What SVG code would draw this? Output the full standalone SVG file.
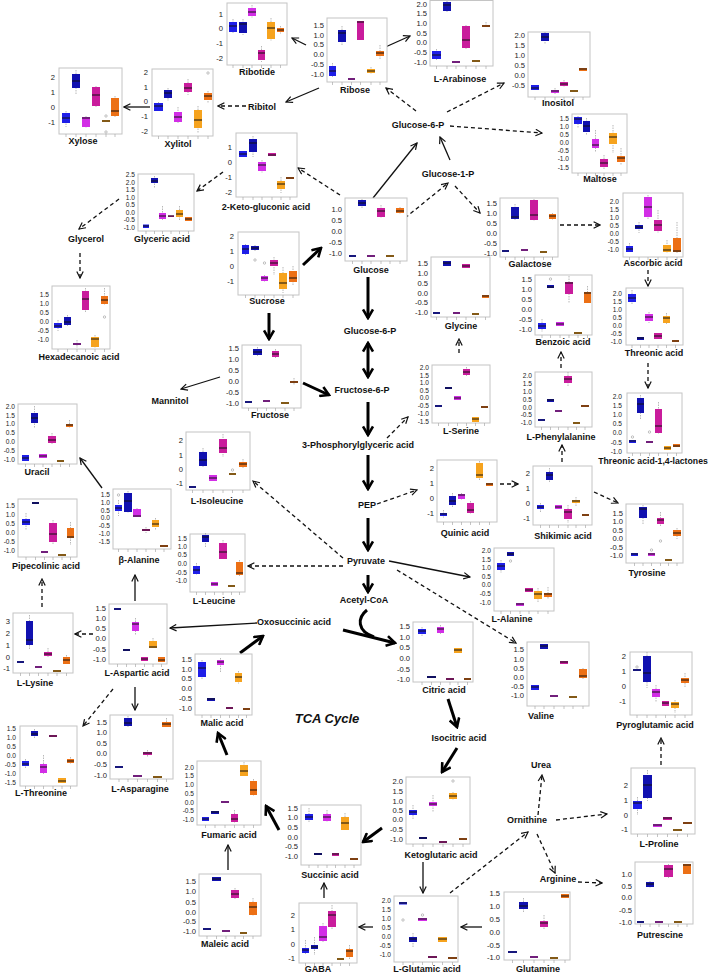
<svg xmlns="http://www.w3.org/2000/svg" width="709" height="973" viewBox="0 0 709 973">
<style>
.fr{fill:#fff;stroke:#c4c4c4;stroke-width:1}
.tk{font-family:"Liberation Sans",Arial,sans-serif;font-size:7.6px;fill:#1a1a1a;text-anchor:end}
#glyceric-acid .tk,#l-serine .tk,#maltose .tk,#ascorbic-acid .tk,#threonic-acid .tk,#l-phenylalanine .tk,#beta-alanine .tk,#fumaric-acid .tk,#l-alanine .tk,#l-leucine .tk,#uracil .tk,#hexadecanoic-acid .tk,#l-glutamic-acid .tk,#pipecolinic-acid .tk,#l-threonine .tk,#threonic-lactones .tk{font-size:6.6px}
.lb{font-family:"Liberation Sans",Arial,sans-serif;font-size:9px;font-weight:bold;fill:#111;text-anchor:middle}
.xt{stroke:#aaa;stroke-width:.7;fill:none}
.wk{stroke:#9a9a9a;stroke-width:.7;stroke-dasharray:1.5 1;fill:none}
.md{stroke:#111;stroke-width:1;fill:none}
.c1{fill:#1e1ee8}.c2{fill:#1111b0}.c3{fill:#d22ee6}.c4{fill:#c91c9c}.c5{fill:#f6a31e}.c6{fill:#ec7015}
.dt{fill:none;stroke:#999;stroke-width:.6}
.s{stroke:#111;stroke-width:1.3;fill:none;marker-end:url(#a)}
.d{stroke:#111;stroke-width:1.3;fill:none;stroke-dasharray:4 3;marker-end:url(#a)}
.k{stroke:#000;stroke-width:3;fill:none;marker-end:url(#h)}
.ti{font-family:"Liberation Sans",Arial,sans-serif;font-size:13px;font-weight:bold;font-style:italic;fill:#111;text-anchor:middle}
</style>
<defs>
<marker id="a" viewBox="0 0 10 10" refX="9" refY="5" markerWidth="8" markerHeight="8" markerUnits="userSpaceOnUse" orient="auto-start-reverse"><path d="M1,1 L9,5 L1,9" fill="none" stroke="#111" stroke-width="1.5"/></marker>
<marker id="h" viewBox="0 0 12 12" refX="10" refY="6" markerWidth="12" markerHeight="12" markerUnits="userSpaceOnUse" orient="auto-start-reverse"><path d="M1.5,1 L10,6 L1.5,11" fill="none" stroke="#000" stroke-width="2.6"/></marker>
</defs>
<rect width="709" height="973" fill="#fff"/>

<g id="connectors">
<path class="s" d="M150,107 L124,107"/>
<path class="s" d="M306,45 L292,38"/>
<path class="s" d="M319,88 L286,102"/>
<path class="s" d="M381,49 L410,36"/>
<path class="s" d="M450,160 L440,137"/>
<path class="s" d="M373,198 L417,143"/>
<path class="s" d="M220,377 L181,389"/>
<path class="s" d="M102,488 L80,458"/>
<path class="s" d="M257,623 L170,628"/>
<path class="s" d="M135,601 L135,575"/>
<path class="s" d="M135,687 L135,710"/>
<path class="s" d="M389,561 L470,577"/>
<path class="s" d="M423,862 L423,893"/>
<path class="s" d="M373,927 L359,927"/>
<path class="s" d="M324,898 L324,883"/>
<path class="s" d="M482,927 L461,927"/>
<path class="s" d="M228,870 L228,845"/>
<path class="d" d="M246,106 L218,106"/>
<path class="d" d="M416,111 L386,88"/>
<path class="d" d="M447,112 L504,83"/>
<path class="d" d="M450,126 L542,133"/>
<path class="d" d="M405,218 L448,183"/>
<path class="d" d="M340,195 L298,168"/>
<path class="d" d="M455,186 L480,213"/>
<path class="d" d="M223,172 L197,191"/>
<path class="d" d="M119,199 L79,229"/>
<path class="d" d="M80,253 L80,278"/>
<path class="d" d="M560,225 L600,225"/>
<path class="d" d="M648,270 L648,286"/>
<path class="d" d="M648,363 L648,388"/>
<path class="d" d="M459,353 L459,339"/>
<path class="d" d="M387,438 L408,417"/>
<path class="d" d="M561,368 L561,352"/>
<path class="d" d="M562,462 L562,445"/>
<path class="d" d="M377,504 L417,490"/>
<path class="d" d="M500,484 L518,484"/>
<path class="d" d="M594,492 L618,503"/>
<path class="d" d="M343,558 L253,481"/>
<path class="d" d="M343,566 L248,566"/>
<path class="d" d="M397,570 L516,643"/>
<path class="d" d="M42,607 L42,579"/>
<path class="d" d="M93,634 L75,634"/>
<path class="d" d="M113,689 L83,726"/>
<path class="d" d="M450,893 L528,832"/>
<path class="d" d="M538,815 L542,775"/>
<path class="d" d="M556,820 L607,814"/>
<path class="d" d="M537,834 L555,873"/>
<path class="d" d="M578,882 L602,883"/>
<path class="d" d="M661,765 L661,738"/>
<path class="k" d="M303,265 L321,248"/>
<path class="k" d="M269,313 L269,339"/>
<path class="k" d="M303,383 L329,395"/>
<path class="k" d="M368,277 L368,318"/>
<path class="k" d="M368,343 L368,377" style="marker-start:url(#h)"/>
<path class="k" d="M368,402 L368,435"/>
<path class="k" d="M368,455 L368,489"/>
<path class="k" d="M368,518 L368,550"/>
<path class="k" d="M368,575 L368,592"/>
<path class="k" d="M343,630 L395,643"/>
<path class="k" d="M367,610 C357,618 357,631 374,637" style="marker-end:none"/>
<path class="k" d="M448,699 L457,727"/>
<path class="k" d="M457,748 L442,772"/>
<path class="k" d="M382,828 L363,842"/>
<path class="k" d="M279,830 L266,806"/>
<path class="k" d="M227,755 L218,733"/>
<path class="k" d="M240,653 L263,636"/>
</g>

<g id="ribitol"><text class="lb" x="262" y="110">Ribitol</text></g>
<g id="glucose-6-p-top"><text class="lb" x="418" y="128">Glucose-6-P</text></g>
<g id="glucose-1-p"><text class="lb" x="448" y="177">Glucose-1-P</text></g>
<g id="glycerol"><text class="lb" x="86" y="242">Glycerol</text></g>
<g id="mannitol"><text class="lb" x="170" y="404">Mannitol</text></g>
<g id="glucose-6-p"><text class="lb" x="370" y="334">Glucose-6-P</text></g>
<g id="fructose-6-p"><text class="lb" x="362" y="393">Fructose-6-P</text></g>
<g id="pga"><text class="lb" x="358" y="448">3-Phosphorylglyceric acid</text></g>
<g id="pep"><text class="lb" x="367" y="508">PEP</text></g>
<g id="pyruvate"><text class="lb" x="366" y="564">Pyruvate</text></g>
<g id="acetyl-coa"><text class="lb" x="364" y="603">Acetyl-CoA</text></g>
<g id="oxosuccinic"><text class="lb" x="294" y="625">Oxosuccinic acid</text></g>
<g id="tca"><text class="ti" x="327" y="723">TCA Cycle</text></g>
<g id="isocitric"><text class="lb" x="459" y="741">Isocitric acid</text></g>
<g id="urea"><text class="lb" x="541" y="768">Urea</text></g>
<g id="ornithine"><text class="lb" x="527" y="823">Ornithine</text></g>
<g id="arginine"><text class="lb" x="558" y="882">Arginine</text></g>

<g id="ribotide"><rect class="fr" x="227" y="3" width="60" height="62"/>
<text class="tk" x="223" y="17">1</text><text class="tk" x="223" y="31">0</text><text class="tk" x="223" y="46">-1</text><text class="tk" x="223" y="61">-2</text>
<path class="xt" d="M233,65v3M243,65v3M252,65v3M261.5,65v3M271,65v3M280.5,65v3"/>
<path class="wk" d="M233,19V34M243,19V35M252,5V18M261.5,46V62M271,18V41M280.5,26V34"/>
<rect class="c1" x="229" y="22" width="8" height="10"/><rect class="c2" x="239" y="22" width="8" height="11"/><rect class="c3" x="248" y="8" width="8" height="8"/><rect class="c4" x="258" y="50" width="7" height="10"/><rect class="c5" x="267" y="22" width="8" height="17"/><rect class="c6" x="277" y="28" width="7" height="4"/>
<path class="md" d="M229,26h8M239,24h8M248,12h8M258,53h7M267,28h8M277,30h7"/>
<text class="lb" x="257" y="75">Ribotide</text></g>

<g id="ribose"><rect class="fr" x="327" y="18" width="60" height="64"/>
<text class="tk" x="324" y="28">1.5</text><text class="tk" x="324" y="38">1.0</text><text class="tk" x="324" y="47">0.5</text><text class="tk" x="324" y="57">0.0</text><text class="tk" x="324" y="67">-0.5</text><text class="tk" x="324" y="77">-1.0</text>
<path class="xt" d="M332.5,82v3M342,82v3M351.5,82v3M360.5,82v3M371,82v3M380,82v3"/>
<path class="wk" d="M332.5,63V77M342,26V45M360.5,21V40M371,67V74M380,45V59"/>
<rect class="c1" x="329" y="66" width="7" height="10"/><rect class="c2" x="338" y="30" width="8" height="12"/><rect class="c3" x="348" y="78" width="7" height="2"/><rect class="c4" x="357" y="21" width="7" height="19"/><rect class="c5" x="367" y="69" width="8" height="4"/><rect class="c6" x="376" y="51" width="8" height="5"/>
<path class="md" d="M329,71h7M338,33h8M348,79h7M357,22h7M367,71h8M376,53h8"/>
<text class="lb" x="355" y="93">Ribose</text></g>

<g id="l-arabinose"><rect class="fr" x="430" y="0.5" width="63" height="65.5"/>
<text class="tk" x="427" y="7">2.0</text><text class="tk" x="427" y="16">1.5</text><text class="tk" x="427" y="26">1.0</text><text class="tk" x="427" y="36">0.5</text><text class="tk" x="427" y="45">0.0</text><text class="tk" x="427" y="55">-0.5</text><text class="tk" x="427" y="65">-1.0</text>
<path class="xt" d="M436.5,66v3M447,66v3M456,66v3M466,66v3M476,66v3M486,66v3"/>
<path class="wk" d="M436.5,49V60M447,1V12M466,25V49M486,22V27"/>
<rect class="c1" x="432" y="51" width="9" height="8"/><rect class="c2" x="443" y="2" width="8" height="9"/><rect class="c3" x="452" y="61" width="8" height="2"/><rect class="c4" x="462" y="26" width="8" height="22"/><rect class="c5" x="472" y="60" width="8" height="2"/><rect class="c6" x="482" y="25" width="8" height="2"/>
<path class="md" d="M432,55h9M443,5h8M452,62h8M462,40h8M472,61h8M482,26h8"/>
<text class="lb" x="460" y="82">L-Arabinose</text></g>

<g id="inositol"><rect class="fr" x="528" y="32" width="62" height="65"/>
<text class="tk" x="525" y="38">2.0</text><text class="tk" x="525" y="48">1.5</text><text class="tk" x="525" y="58">1.0</text><text class="tk" x="525" y="68">0.5</text><text class="tk" x="525" y="78">0.0</text><text class="tk" x="525" y="88">-0.5</text>
<path class="xt" d="M535,97v3M545,97v3M555,97v3M564,97v3M574,97v3M583,97v3"/>
<path class="wk" d="M545,32V44M555,88V94M564,80V87"/>
<rect class="c1" x="531" y="85" width="8" height="5"/><rect class="c2" x="541" y="33" width="8" height="8"/><rect class="c3" x="551" y="90" width="8" height="3"/><rect class="c4" x="560" y="82" width="8" height="4"/><rect class="c5" x="570" y="90" width="8" height="2"/><rect class="c6" x="579" y="68" width="8" height="3"/>
<path class="md" d="M531,88h8M541,37h8M551,91h8M560,84h8M570,91h8M579,69h8"/>
<text class="lb" x="558" y="106">Inositol</text></g>

<g id="maltose"><rect class="fr" x="572" y="114" width="55" height="59"/>
<text class="tk" x="569" y="121">1.5</text><text class="tk" x="569" y="129">1.0</text><text class="tk" x="569" y="137">0.5</text><text class="tk" x="569" y="145">0.0</text><text class="tk" x="569" y="153">-0.5</text><text class="tk" x="569" y="161">-1.0</text><text class="tk" x="569" y="170">-1.5</text>
<path class="xt" d="M578,173v3M586.5,173v3M595.5,173v3M604,173v3M613,173v3M621,173v3"/>
<path class="wk" d="M578,116V128M586.5,118V135M595.5,130V152M604,155V170M613,125V153M621,148V165"/>
<rect class="c1" x="574" y="117" width="8" height="7"/><rect class="c2" x="583" y="121" width="7" height="11"/><rect class="c3" x="592" y="139" width="7" height="9"/><rect class="c4" x="600" y="159" width="8" height="8"/><rect class="c5" x="609" y="133" width="8" height="11"/><rect class="c6" x="617" y="156" width="8" height="6"/>
<path class="md" d="M574,119h8M583,126h7M592,145h7M600,163h8M609,137h8M617,158h8"/>
<text class="lb" x="600" y="182">Maltose</text></g>

<g id="xylose"><rect class="fr" x="59" y="68" width="63" height="66"/>
<text class="tk" x="55" y="80">2</text><text class="tk" x="55" y="95">1</text><text class="tk" x="55" y="110">0</text><text class="tk" x="55" y="125">-1</text>
<path class="xt" d="M66,134v3M76,134v3M86,134v3M96,134v3M106,134v3M115,134v3"/>
<path class="wk" d="M66,111V127M76,70V94M86,116V128M96,86V107M115,96V117"/>
<rect class="c1" x="62" y="113" width="8" height="10"/><rect class="c2" x="72" y="74" width="8" height="14"/><rect class="c3" x="82" y="117" width="8" height="10"/><rect class="c4" x="92" y="87" width="8" height="19"/><rect class="c5" x="102" y="120" width="8" height="2"/><rect class="c6" x="111" y="98" width="8" height="18"/>
<path class="md" d="M62,118h8M72,81h8M82,118h8M92,95h8M102,121h8M111,111h8"/>
<circle class="dt" cx="106" cy="116" r="1.2"/><circle class="dt" cx="106" cy="132" r="1.2"/>
<text class="lb" x="83" y="144">Xylose</text></g>

<g id="xylitol"><rect class="fr" x="152" y="69" width="61" height="67"/>
<text class="tk" x="148" y="75">2</text><text class="tk" x="148" y="90">1</text><text class="tk" x="148" y="104">0</text><text class="tk" x="148" y="119">-1</text><text class="tk" x="148" y="134">-2</text>
<path class="xt" d="M158.5,136v3M168,136v3M178,136v3M188,136v3M198,136v3M208,136v3"/>
<path class="wk" d="M158.5,102V112M168,88V101M178,107V123M188,79V95M198,106V133M208,91V103"/>
<rect class="c1" x="154" y="103" width="9" height="8"/><rect class="c2" x="164" y="90" width="8" height="8"/><rect class="c3" x="174" y="112" width="8" height="10"/><rect class="c4" x="184" y="83" width="8" height="9"/><rect class="c5" x="194" y="110" width="8" height="18"/><rect class="c6" x="204" y="93" width="8" height="7"/>
<path class="md" d="M154,106h9M164,93h8M174,117h8M184,88h8M194,120h8M204,96h8"/>
<circle class="dt" cx="208" cy="73" r="1.2"/>
<text class="lb" x="178" y="147">Xylitol</text></g>

<g id="keto-gluconic"><rect class="fr" x="236" y="133" width="61" height="64"/>
<text class="tk" x="232" y="150">1</text><text class="tk" x="232" y="165">0</text><text class="tk" x="232" y="180">-1</text><text class="tk" x="232" y="195">-2</text>
<path class="xt" d="M243,197v3M253,197v3M262,197v3M272,197v3M281,197v3M290,197v3"/>
<path class="wk" d="M253,136V157M262,160V173M281,177V193"/>
<rect class="c1" x="239" y="151" width="8" height="6"/><rect class="c2" x="249" y="139" width="8" height="13"/><rect class="c3" x="258" y="162" width="8" height="9"/><rect class="c4" x="268" y="153" width="8" height="3"/><rect class="c5" x="277" y="181" width="8" height="8"/><rect class="c6" x="286" y="177" width="8" height="2"/>
<path class="md" d="M239,154h8M249,143h8M258,165h8M268,155h8M277,184h8M286,178h8"/>
<text class="lb" x="266" y="210">2-Keto-gluconic acid</text></g>

<g id="glyceric-acid"><rect class="fr" x="138" y="174" width="56" height="57"/>
<text class="tk" x="135" y="177">2.5</text><text class="tk" x="135" y="184.5">2.0</text><text class="tk" x="135" y="192">1.5</text><text class="tk" x="135" y="199.5">1.0</text><text class="tk" x="135" y="207">0.5</text><text class="tk" x="135" y="214.5">0.0</text><text class="tk" x="135" y="222">-0.5</text><text class="tk" x="135" y="229.5">-1.0</text>
<path class="xt" d="M146,231v3M154.5,231v3M162.5,231v3M171,231v3M179.5,231v3M188.5,231v3"/>
<path class="wk" d="M154.5,176V188M162.5,206V220M179.5,206V220"/>
<rect class="c1" x="143" y="224.5" width="6" height="3.5"/><rect class="c2" x="151" y="178" width="7" height="5"/><rect class="c3" x="159" y="213" width="7" height="6"/><rect class="c4" x="168" y="215.5" width="6" height="1.5"/><rect class="c5" x="176" y="210" width="7" height="7"/><rect class="c6" x="185" y="217" width="7" height="4"/>
<path class="md" d="M143,226h6M151,181h7M159,216h7M168,216h6M176,214h7M185,219h7"/>
<text class="lb" x="162" y="242">Glyceric acid</text></g>

<g id="hexadecanoic-acid"><rect class="fr" x="52" y="286" width="58" height="63"/>
<text class="tk" x="49" y="297">1.5</text><text class="tk" x="49" y="306">1.0</text><text class="tk" x="49" y="315">0.5</text><text class="tk" x="49" y="324">0.0</text><text class="tk" x="49" y="333">-0.5</text><text class="tk" x="49" y="342">-1.0</text>
<path class="xt" d="M58,349v3M67.5,349v3M77,349v3M85.5,349v3M95,349v3M104.5,349v3"/>
<path class="wk" d="M58,320V331M67.5,315V326M77,340V348M85.5,288V312M95,335V348M104.5,288V305"/>
<rect class="c1" x="54" y="323" width="8" height="5"/><rect class="c2" x="64" y="317" width="7" height="8"/><rect class="c3" x="73" y="343" width="8" height="2"/><rect class="c4" x="82" y="291" width="7" height="19"/><rect class="c5" x="91" y="337" width="8" height="10"/><rect class="c6" x="101" y="296" width="7" height="8"/>
<path class="md" d="M54,326h8M64,322h7M73,344h8M82,299h7M91,339h8M101,300h7"/>
<circle class="dt" cx="104.5" cy="317" r="1.2"/>
<text class="lb" x="79" y="360">Hexadecanoic acid</text></g>

<g id="glucose"><rect class="fr" x="345" y="198" width="62" height="63"/>
<text class="tk" x="342" y="212">1.0</text><text class="tk" x="342" y="223">0.5</text><text class="tk" x="342" y="234">0.0</text><text class="tk" x="342" y="245">-0.5</text><text class="tk" x="342" y="256">-1.0</text>
<path class="xt" d="M352.5,261v3M362,261v3M371,261v3M381,261v3M390,261v3M400,261v3"/>
<path class="wk" d="M362,199V208M381,205V218M400,207V214"/>
<rect class="c1" x="349" y="255" width="7" height="2"/><rect class="c2" x="358" y="200" width="8" height="6"/><rect class="c3" x="367" y="255" width="8" height="2"/><rect class="c4" x="377" y="208" width="8" height="9"/><rect class="c5" x="386" y="255" width="8" height="2"/><rect class="c6" x="396" y="208" width="8" height="5"/>
<path class="md" d="M349,256h7M358,203h8M367,256h8M377,211h8M386,256h8M396,211h8"/>
<text class="lb" x="371" y="273">Glucose</text></g>

<g id="sucrose"><rect class="fr" x="238" y="232" width="61" height="63"/>
<text class="tk" x="234" y="239">2</text><text class="tk" x="234" y="254">1</text><text class="tk" x="234" y="269">0</text><text class="tk" x="234" y="284">-1</text>
<path class="xt" d="M245.5,295v3M255,295v3M264.5,295v3M274,295v3M283,295v3M293,295v3"/>
<path class="wk" d="M245.5,244V255M255,245V251M264.5,275V282M274,257V275M283,267V293M293,266V285"/>
<rect class="c1" x="242" y="245" width="7" height="9"/><rect class="c2" x="251" y="246" width="8" height="4"/><rect class="c3" x="261" y="276" width="7" height="5"/><rect class="c4" x="270" y="260" width="8" height="6"/><rect class="c5" x="279" y="273" width="8" height="16"/><rect class="c6" x="289" y="271" width="8" height="11"/>
<path class="md" d="M242,249h7M251,248h8M261,278h7M270,263h8M279,283h8M289,278h8"/>
<circle class="dt" cx="255" cy="260" r="1.2"/><circle class="dt" cx="264.5" cy="263" r="1.2"/>
<text class="lb" x="267" y="304">Sucrose</text></g>

<g id="fructose"><rect class="fr" x="242" y="345" width="59" height="63"/>
<text class="tk" x="239" y="351">1.5</text><text class="tk" x="239" y="362">1.0</text><text class="tk" x="239" y="373">0.5</text><text class="tk" x="239" y="384">0.0</text><text class="tk" x="239" y="395">-0.5</text><text class="tk" x="239" y="406">-1.0</text>
<path class="xt" d="M248.5,408v3M257.5,408v3M266.5,408v3M275.5,408v3M285,408v3M294,408v3"/>
<path class="wk" d="M257.5,347V357M275.5,349V358M294,378V385"/>
<rect class="c1" x="245" y="401" width="7" height="2"/><rect class="c2" x="253" y="349" width="9" height="6"/><rect class="c3" x="263" y="400" width="7" height="2"/><rect class="c4" x="272" y="351" width="7" height="6"/><rect class="c5" x="281" y="402" width="8" height="2"/><rect class="c6" x="290" y="381" width="8" height="2"/>
<path class="md" d="M245,402h7M253,352h9M263,401h7M272,354h7M281,403h8M290,382h8"/>
<text class="lb" x="270" y="418">Fructose</text></g>

<g id="galactose"><rect class="fr" x="500" y="198" width="58" height="59"/>
<text class="tk" x="497" y="206">1.5</text><text class="tk" x="497" y="216">1.0</text><text class="tk" x="497" y="226">0.5</text><text class="tk" x="497" y="236">0.0</text><text class="tk" x="497" y="246">-0.5</text><text class="tk" x="497" y="256">-1.0</text>
<path class="xt" d="M505.5,257v3M515,257v3M524.5,257v3M534,257v3M543.5,257v3M552.5,257v3"/>
<path class="wk" d="M515,204V220M534,199V221M552.5,213V220"/>
<rect class="c1" x="502" y="250" width="7" height="2"/><rect class="c2" x="511" y="207" width="8" height="12"/><rect class="c3" x="521" y="249" width="7" height="2"/><rect class="c4" x="530" y="200" width="8" height="20"/><rect class="c5" x="540" y="251" width="7" height="2"/><rect class="c6" x="549" y="214" width="7" height="5"/>
<path class="md" d="M502,251h7M511,217h8M521,250h7M530,215h8M540,252h7M549,216h7"/>
<text class="lb" x="530" y="267">Galactose</text></g>

<g id="ascorbic-acid"><rect class="fr" x="623" y="193" width="60" height="64"/>
<text class="tk" x="619" y="204">2.0</text><text class="tk" x="619" y="212">1.5</text><text class="tk" x="619" y="220">1.0</text><text class="tk" x="619" y="228">0.5</text><text class="tk" x="619" y="236">0.0</text><text class="tk" x="619" y="244">-0.5</text><text class="tk" x="619" y="252">-1.0</text>
<path class="xt" d="M629.5,257v3M639,257v3M648,257v3M658,257v3M667,257v3M677,257v3"/>
<path class="wk" d="M629.5,243V253M639,222V233M648,195V220M658,210V233M667,240V253M677,222V253"/>
<rect class="c1" x="626" y="246" width="7" height="6"/><rect class="c2" x="635" y="225" width="8" height="4"/><rect class="c3" x="644" y="197" width="8" height="20"/><rect class="c4" x="654" y="220" width="8" height="11"/><rect class="c5" x="663" y="245" width="8" height="7"/><rect class="c6" x="673" y="238" width="8" height="14"/>
<path class="md" d="M626,249h7M635,227h8M644,207h8M654,225h8M663,250h8M673,251h8"/>
<text class="lb" x="653" y="266">Ascorbic acid</text></g>

<g id="glycine"><rect class="fr" x="431" y="257" width="59" height="60"/>
<text class="tk" x="428" y="266">1.5</text><text class="tk" x="428" y="276">1.0</text><text class="tk" x="428" y="286">0.5</text><text class="tk" x="428" y="296">0.0</text><text class="tk" x="428" y="305">-0.5</text><text class="tk" x="428" y="315">-1.0</text>
<path class="xt" d="M436.5,317v3M447,317v3M456.5,317v3M466,317v3M475.5,317v3M485.5,317v3"/>
<rect class="c1" x="433" y="312" width="7" height="2"/><rect class="c2" x="443" y="261" width="8" height="5"/><rect class="c3" x="453" y="312" width="7" height="2"/><rect class="c4" x="462" y="264" width="8" height="4"/><rect class="c5" x="472" y="313" width="7" height="2"/><rect class="c6" x="482" y="295" width="7" height="3"/>
<path class="md" d="M433,313h7M443,263h8M453,313h7M462,266h8M472,314h7M482,296h7"/>
<text class="lb" x="461" y="329">Glycine</text></g>

<g id="l-serine"><rect class="fr" x="432" y="365" width="58" height="58"/>
<text class="tk" x="429" y="370">2.0</text><text class="tk" x="429" y="377.5">1.5</text><text class="tk" x="429" y="385">1.0</text><text class="tk" x="429" y="392.5">0.5</text><text class="tk" x="429" y="400">0.0</text><text class="tk" x="429" y="408">-0.5</text><text class="tk" x="429" y="416">-1.0</text><text class="tk" x="429" y="424">-1.5</text>
<path class="xt" d="M438.5,423v3M448.5,423v3M457.5,423v3M466.5,423v3M475.5,423v3M484.5,423v3"/>
<path class="wk" d="M466.5,367V377"/>
<rect class="c1" x="435" y="405" width="7" height="2"/><rect class="c2" x="445" y="387" width="7" height="2"/><rect class="c3" x="454" y="396" width="7" height="4"/><rect class="c4" x="463" y="369" width="7" height="6"/><rect class="c5" x="472" y="417" width="7" height="5"/><rect class="c6" x="481" y="406" width="7" height="2"/>
<path class="md" d="M435,406h7M445,388h7M454,398h7M463,372h7M472,419h7M481,407h7"/>
<text class="lb" x="461" y="434">L-Serine</text></g>

<g id="benzoic-acid"><rect class="fr" x="535" y="275" width="57" height="60"/>
<text class="tk" x="532" y="282">1.5</text><text class="tk" x="532" y="292">1.0</text><text class="tk" x="532" y="302">0.5</text><text class="tk" x="532" y="312">0.0</text><text class="tk" x="532" y="322">-0.5</text><text class="tk" x="532" y="332">-1.0</text>
<path class="xt" d="M542,335v3M550.5,335v3M560,335v3M569,335v3M578,335v3M587.5,335v3"/>
<path class="wk" d="M542,319V332M569,276V303M587.5,286V303"/>
<rect class="c1" x="538" y="323" width="8" height="6"/><rect class="c2" x="547" y="285" width="7" height="3"/><rect class="c3" x="556" y="322" width="8" height="4"/><rect class="c4" x="565" y="282" width="8" height="12"/><rect class="c5" x="574" y="332" width="8" height="2"/><rect class="c6" x="584" y="292" width="7" height="11"/>
<path class="md" d="M538,326h8M547,287h7M556,324h8M565,283h8M574,333h8M584,293h7"/>
<circle class="dt" cx="550.5" cy="279" r="1.2"/>
<text class="lb" x="563" y="345">Benzoic acid</text></g>

<g id="threonic-acid"><rect class="fr" x="626" y="288" width="57" height="57"/>
<text class="tk" x="622" y="296">2.0</text><text class="tk" x="622" y="304">1.5</text><text class="tk" x="622" y="312">1.0</text><text class="tk" x="622" y="320">0.5</text><text class="tk" x="622" y="328">0.0</text><text class="tk" x="622" y="336">-0.5</text><text class="tk" x="622" y="344">-1.0</text>
<path class="xt" d="M632,345v3M640.5,345v3M649,345v3M658,345v3M666.5,345v3M675.5,345v3"/>
<path class="wk" d="M632,290V305M649,312V323M666.5,313V324"/>
<rect class="c1" x="628" y="294" width="8" height="8"/><rect class="c2" x="637" y="337" width="7" height="3"/><rect class="c3" x="645" y="314" width="8" height="7"/><rect class="c4" x="654" y="333" width="8" height="6"/><rect class="c5" x="663" y="316" width="7" height="7"/><rect class="c6" x="672" y="340" width="7" height="2"/>
<path class="md" d="M628,298h8M637,338h7M645,317h8M654,336h8M663,318h7M672,341h7"/>
<text class="lb" x="654" y="356">Threonic acid</text></g>

<g id="threonic-lactones"><rect class="fr" x="627" y="393" width="55" height="60"/>
<text class="tk" x="622" y="399">2.0</text><text class="tk" x="622" y="408">1.5</text><text class="tk" x="622" y="417">1.0</text><text class="tk" x="622" y="426">0.5</text><text class="tk" x="622" y="435">0.0</text><text class="tk" x="622" y="445">-0.5</text><text class="tk" x="622" y="454">-1.0</text>
<path class="xt" d="M632.5,453v3M640.5,453v3M649.5,453v3M658.5,453v3M667.5,453v3M676.5,453v3"/>
<path class="wk" d="M640.5,395V420M658.5,402V434"/>
<rect class="c1" x="629" y="440" width="7" height="3"/><rect class="c2" x="637" y="398" width="7" height="15"/><rect class="c3" x="646" y="441" width="7" height="2"/><rect class="c4" x="655" y="409" width="7" height="24"/><rect class="c5" x="664" y="446" width="7" height="4"/><rect class="c6" x="673" y="444" width="7" height="3"/>
<path class="md" d="M629,441h7M637,404h7M646,442h7M655,426h7M664,448h7M673,446h7"/>
<circle class="dt" cx="632.5" cy="437" r="1.2"/><circle class="dt" cx="649.5" cy="432" r="1.2"/>
<text class="lb" x="653" y="464" style="font-size:8.7px">Threonic acid-1,4-lactones</text></g>

<g id="l-phenylalanine"><rect class="fr" x="535" y="372" width="57" height="55"/>
<text class="tk" x="532" y="378">2.0</text><text class="tk" x="532" y="386">1.5</text><text class="tk" x="532" y="394">1.0</text><text class="tk" x="532" y="402">0.5</text><text class="tk" x="532" y="410">0.0</text><text class="tk" x="532" y="417">-0.5</text><text class="tk" x="532" y="425">-1.0</text>
<path class="xt" d="M541.5,427v3M550.5,427v3M558.5,427v3M568,427v3M576.5,427v3M585,427v3"/>
<path class="wk" d="M568,372V386"/>
<rect class="c1" x="538" y="419" width="7" height="2"/><rect class="c2" x="547" y="399" width="7" height="3"/><rect class="c3" x="555" y="410" width="7" height="2"/><rect class="c4" x="564" y="376" width="8" height="7"/><rect class="c5" x="573" y="422" width="7" height="2"/><rect class="c6" x="581" y="405" width="8" height="2"/>
<path class="md" d="M538,420h7M547,400h7M555,411h7M564,379h8M573,423h7M581,406h8"/>
<text class="lb" x="561" y="440">L-Phenylalanine</text></g>

<g id="l-isoleucine"><rect class="fr" x="186" y="432" width="64" height="58"/>
<text class="tk" x="183" y="443">2</text><text class="tk" x="183" y="458">1</text><text class="tk" x="183" y="472">0</text><text class="tk" x="183" y="486">-1</text>
<path class="xt" d="M192.5,490v3M203,490v3M213,490v3M223,490v3M232.5,490v3M243,490v3"/>
<path class="wk" d="M203,448V468M223,434V457M243,459V469"/>
<rect class="c1" x="189" y="486" width="7" height="2"/><rect class="c2" x="199" y="452" width="8" height="14"/><rect class="c3" x="209" y="475" width="8" height="6"/><rect class="c4" x="219" y="439" width="8" height="14"/><rect class="c5" x="229" y="473" width="7" height="2"/><rect class="c6" x="239" y="462" width="8" height="5"/>
<path class="md" d="M189,487h7M199,460h8M209,478h8M219,448h8M229,474h7M239,464h8"/>
<circle class="dt" cx="232.5" cy="470" r="1.2"/>
<text class="lb" x="217" y="504">L-Isoleucine</text></g>

<g id="uracil"><rect class="fr" x="18" y="404" width="59" height="60"/>
<text class="tk" x="15" y="409">2.0</text><text class="tk" x="15" y="418">1.5</text><text class="tk" x="15" y="426">1.0</text><text class="tk" x="15" y="435">0.5</text><text class="tk" x="15" y="444">0.0</text><text class="tk" x="15" y="453">-0.5</text><text class="tk" x="15" y="462">-1.0</text>
<path class="xt" d="M25.5,464v3M34.5,464v3M43,464v3M52,464v3M60.5,464v3M69.5,464v3"/>
<path class="wk" d="M34.5,406V428M52,433V444M69.5,420V428"/>
<rect class="c1" x="22" y="455" width="7" height="6"/><rect class="c2" x="31" y="413" width="7" height="10"/><rect class="c3" x="39" y="454" width="8" height="4"/><rect class="c4" x="48" y="436" width="8" height="7"/><rect class="c5" x="57" y="460" width="7" height="2"/><rect class="c6" x="66" y="424" width="7" height="3"/>
<path class="md" d="M22,458h7M31,418h7M39,456h8M48,440h8M57,461h7M66,425h7"/>
<text class="lb" x="37" y="475">Uracil</text></g>

<g id="pipecolinic-acid"><rect class="fr" x="18" y="499" width="59" height="58"/>
<text class="tk" x="15" y="508">1.5</text><text class="tk" x="15" y="517">1.0</text><text class="tk" x="15" y="526">0.5</text><text class="tk" x="15" y="535">0.0</text><text class="tk" x="15" y="544">-0.5</text><text class="tk" x="15" y="553">-1.0</text>
<path class="xt" d="M26,557v3M35.5,557v3M44.5,557v3M53,557v3M62,557v3M70.5,557v3"/>
<path class="wk" d="M26,513V530M53,520V544M70.5,522V545"/>
<rect class="c1" x="22" y="519" width="8" height="6"/><rect class="c2" x="32" y="502" width="7" height="2"/><rect class="c3" x="41" y="551" width="7" height="2"/><rect class="c4" x="49" y="523" width="8" height="19"/><rect class="c5" x="58" y="554" width="8" height="2"/><rect class="c6" x="67" y="528" width="7" height="10"/>
<path class="md" d="M22,522h8M32,503h7M41,552h7M49,534h8M58,555h8M67,537h7"/>
<text class="lb" x="46" y="569">Pipecolinic acid</text></g>

<g id="beta-alanine"><rect class="fr" x="113" y="489" width="58" height="60"/>
<text class="tk" x="110" y="497">1.5</text><text class="tk" x="110" y="505">1.0</text><text class="tk" x="110" y="513">0.5</text><text class="tk" x="110" y="520">0.0</text><text class="tk" x="110" y="528">-0.5</text><text class="tk" x="110" y="536">-1.0</text><text class="tk" x="110" y="544">-1.5</text>
<path class="xt" d="M118.5,549v3M128,549v3M137,549v3M146,549v3M155.5,549v3M164,549v3"/>
<path class="wk" d="M118.5,500V516M128,491V513M137,508V518M146,527V533M155.5,518V530"/>
<rect class="c1" x="115" y="505" width="7" height="6"/><rect class="c2" x="124" y="493" width="8" height="19"/><rect class="c3" x="133" y="509" width="8" height="8"/><rect class="c4" x="142" y="529" width="8" height="2"/><rect class="c5" x="152" y="520" width="7" height="7"/><rect class="c6" x="160" y="545" width="8" height="2"/>
<path class="md" d="M115,508h7M124,501h8M133,516h8M142,530h8M152,524h7M160,546h8"/>
<circle class="dt" cx="118.5" cy="495" r="1.2"/>
<text class="lb" x="139" y="563">β-Alanine</text></g>

<g id="l-leucine"><rect class="fr" x="190" y="534" width="55" height="58"/>
<text class="tk" x="187" y="541">1.5</text><text class="tk" x="187" y="549">1.0</text><text class="tk" x="187" y="557">0.5</text><text class="tk" x="187" y="566">0.0</text><text class="tk" x="187" y="575">-0.5</text><text class="tk" x="187" y="583">-1.0</text>
<path class="xt" d="M196.5,592v3M205.5,592v3M214.5,592v3M223,592v3M231.5,592v3M239.5,592v3"/>
<path class="wk" d="M196.5,563V575M205.5,533V548M223,540V560M239.5,560V576"/>
<rect class="c1" x="193" y="566" width="7" height="8"/><rect class="c2" x="202" y="535" width="7" height="7"/><rect class="c3" x="211" y="582" width="7" height="4"/><rect class="c4" x="219" y="543" width="8" height="16"/><rect class="c5" x="228" y="585" width="7" height="2"/><rect class="c6" x="236" y="562" width="7" height="13"/>
<path class="md" d="M193,570h7M202,537h7M211,584h7M219,552h8M228,586h7M236,573h7"/>
<text class="lb" x="214" y="604">L-Leucine</text></g>

<g id="l-lysine"><rect class="fr" x="13" y="613" width="60" height="60"/>
<text class="tk" x="10" y="624">3</text><text class="tk" x="10" y="636">2</text><text class="tk" x="10" y="648">1</text><text class="tk" x="10" y="660">0</text><text class="tk" x="10" y="671">-1</text>
<path class="xt" d="M20.5,673v3M29.5,673v3M38.5,673v3M48,673v3M57,673v3M66.5,673v3"/>
<path class="wk" d="M29.5,615V650M48,648V657M66.5,655V665"/>
<rect class="c1" x="17" y="661" width="7" height="2"/><rect class="c2" x="26" y="621" width="7" height="24"/><rect class="c3" x="35" y="666" width="7" height="2"/><rect class="c4" x="44" y="652" width="8" height="4"/><rect class="c5" x="53" y="670" width="8" height="2"/><rect class="c6" x="63" y="657" width="7" height="7"/>
<path class="md" d="M17,662h7M26,640h7M35,667h7M44,654h8M53,671h8M63,660h7"/>
<text class="lb" x="35" y="686">L-Lysine</text></g>

<g id="l-aspartic-acid"><rect class="fr" x="109" y="604" width="58" height="60"/>
<text class="tk" x="106" y="611">1.5</text><text class="tk" x="106" y="621">1.0</text><text class="tk" x="106" y="631">0.5</text><text class="tk" x="106" y="641">0.0</text><text class="tk" x="106" y="652">-0.5</text><text class="tk" x="106" y="662">-1.0</text>
<path class="xt" d="M117.5,664v3M126.5,664v3M135.5,664v3M144.5,664v3M153,664v3M161.5,664v3"/>
<path class="wk" d="M135.5,618V635M153,638V648"/>
<rect class="c1" x="114" y="608" width="7" height="2"/><rect class="c2" x="123" y="649" width="7" height="2"/><rect class="c3" x="132" y="622" width="7" height="9"/><rect class="c4" x="141" y="657" width="7" height="4"/><rect class="c5" x="149" y="641" width="8" height="7"/><rect class="c6" x="158" y="657" width="7" height="5"/>
<path class="md" d="M114,609h7M123,650h7M132,624h7M141,659h7M149,647h8M158,660h7"/>
<text class="lb" x="137" y="676">L-Aspartic acid</text></g>

<g id="l-asparagine"><rect class="fr" x="110" y="715" width="63" height="64"/>
<text class="tk" x="107" y="725">1.5</text><text class="tk" x="107" y="735">1.0</text><text class="tk" x="107" y="746">0.5</text><text class="tk" x="107" y="756">0.0</text><text class="tk" x="107" y="767">-0.5</text><text class="tk" x="107" y="778">-1.0</text>
<path class="xt" d="M119,779v3M128,779v3M137.5,779v3M147.5,779v3M157.5,779v3M166.5,779v3"/>
<path class="wk" d="M128,716V727M147.5,750V757M166.5,718V728"/>
<rect class="c1" x="115" y="766" width="8" height="2"/><rect class="c2" x="124" y="718" width="8" height="8"/><rect class="c3" x="133" y="775" width="9" height="2"/><rect class="c4" x="143" y="752" width="9" height="3"/><rect class="c5" x="153" y="776" width="9" height="2"/><rect class="c6" x="162" y="722" width="9" height="5"/>
<path class="md" d="M115,767h8M124,723h8M133,776h9M143,753h9M153,777h9M162,724h9"/>
<text class="lb" x="140" y="792">L-Asparagine</text></g>

<g id="l-threonine"><rect class="fr" x="20" y="726" width="57" height="60"/>
<text class="tk" x="16" y="731">1.5</text><text class="tk" x="16" y="740">1.0</text><text class="tk" x="16" y="749">0.5</text><text class="tk" x="16" y="758">0.0</text><text class="tk" x="16" y="767">-0.5</text><text class="tk" x="16" y="776">-1.0</text><text class="tk" x="16" y="785">-1.5</text>
<path class="xt" d="M25.5,786v3M34.5,786v3M43.5,786v3M53,786v3M62,786v3M70.5,786v3"/>
<path class="wk" d="M25.5,759V768M34.5,729V738M43.5,755V775M70.5,757V764"/>
<rect class="c1" x="22" y="761" width="7" height="5"/><rect class="c2" x="31" y="731" width="7" height="5"/><rect class="c3" x="40" y="764" width="7" height="9"/><rect class="c4" x="49" y="735" width="8" height="2"/><rect class="c5" x="58" y="778" width="8" height="5"/><rect class="c6" x="67" y="759" width="7" height="4"/>
<path class="md" d="M22,764h7M31,734h7M40,767h7M49,736h8M58,781h8M67,761h7"/>
<text class="lb" x="41" y="796">L-Threonine</text></g>

<g id="malic-acid"><rect class="fr" x="195" y="654" width="57" height="61"/>
<text class="tk" x="192" y="662">1.5</text><text class="tk" x="192" y="672">1.0</text><text class="tk" x="192" y="681">0.5</text><text class="tk" x="192" y="691">0.0</text><text class="tk" x="192" y="701">-0.5</text><text class="tk" x="192" y="711">-1.0</text>
<path class="xt" d="M202,715v3M211,715v3M220.5,715v3M229.5,715v3M238.5,715v3M246.5,715v3"/>
<path class="wk" d="M202,660V680M220.5,658V672M238.5,671V684"/>
<rect class="c1" x="198" y="662" width="8" height="15"/><rect class="c2" x="207" y="698" width="8" height="3"/><rect class="c3" x="217" y="660" width="7" height="5"/><rect class="c4" x="226" y="707" width="7" height="2"/><rect class="c5" x="235" y="673" width="7" height="9"/><rect class="c6" x="243" y="708" width="7" height="2"/>
<path class="md" d="M198,668h8M207,699h8M217,662h7M226,708h7M235,677h7M243,709h7"/>
<text class="lb" x="222" y="726">Malic acid</text></g>

<g id="fumaric-acid"><rect class="fr" x="197" y="761" width="64" height="64"/>
<text class="tk" x="194" y="770">2.0</text><text class="tk" x="194" y="778">1.5</text><text class="tk" x="194" y="787">1.0</text><text class="tk" x="194" y="796">0.5</text><text class="tk" x="194" y="805">0.0</text><text class="tk" x="194" y="813">-0.5</text><text class="tk" x="194" y="822">-1.0</text>
<path class="xt" d="M205.5,825v3M215,825v3M225,825v3M234.5,825v3M244,825v3M253.5,825v3"/>
<path class="wk" d="M234.5,810V823M244,762V777M253.5,779V796"/>
<rect class="c1" x="202" y="817" width="7" height="4"/><rect class="c2" x="211" y="811" width="8" height="3"/><rect class="c3" x="221" y="801" width="8" height="2"/><rect class="c4" x="231" y="814" width="7" height="8"/><rect class="c5" x="240" y="765" width="8" height="11"/><rect class="c6" x="250" y="781" width="7" height="14"/>
<path class="md" d="M202,819h7M211,812h8M221,802h8M231,819h7M240,771h8M250,790h7"/>
<text class="lb" x="229" y="838">Fumaric acid</text></g>

<g id="maleic-acid"><rect class="fr" x="199" y="874" width="62" height="62"/>
<text class="tk" x="196" y="884">1.5</text><text class="tk" x="196" y="894">1.0</text><text class="tk" x="196" y="905">0.5</text><text class="tk" x="196" y="915">0.0</text><text class="tk" x="196" y="924">-0.5</text><text class="tk" x="196" y="934">-1.0</text>
<path class="xt" d="M207,936v3M216.5,936v3M226,936v3M235,936v3M243.5,936v3M253,936v3"/>
<path class="wk" d="M235,888V899M253,898V916"/>
<rect class="c1" x="203" y="928" width="8" height="2"/><rect class="c2" x="212" y="877" width="9" height="4"/><rect class="c3" x="222" y="930" width="8" height="2"/><rect class="c4" x="231" y="890" width="8" height="8"/><rect class="c5" x="240" y="932" width="7" height="2"/><rect class="c6" x="249" y="902" width="8" height="13"/>
<path class="md" d="M203,929h8M212,879h9M222,931h8M231,894h8M240,933h7M249,907h8"/>
<text class="lb" x="225" y="947">Maleic acid</text></g>

<g id="succinic-acid"><rect class="fr" x="301" y="805" width="60" height="60"/>
<text class="tk" x="298" y="811">1.5</text><text class="tk" x="298" y="820">1.0</text><text class="tk" x="298" y="830">0.5</text><text class="tk" x="298" y="840">0.0</text><text class="tk" x="298" y="849">-0.5</text><text class="tk" x="298" y="859">-1.0</text>
<path class="xt" d="M309,865v3M318,865v3M327,865v3M335.5,865v3M345,865v3M354,865v3"/>
<path class="wk" d="M309,808V823M327,810V822M345,813V830"/>
<rect class="c1" x="305" y="814" width="8" height="6"/><rect class="c2" x="314" y="853" width="8" height="2"/><rect class="c3" x="323" y="814" width="8" height="7"/><rect class="c4" x="332" y="853" width="7" height="3"/><rect class="c5" x="341" y="817" width="8" height="13"/><rect class="c6" x="350" y="858" width="8" height="2"/>
<path class="md" d="M305,817h8M314,854h8M323,817h8M332,854h7M341,823h8M350,859h8"/>
<text class="lb" x="330" y="878">Succinic acid</text></g>

<g id="gaba"><rect class="fr" x="299" y="903" width="58" height="60"/>
<text class="tk" x="295" y="918">2</text><text class="tk" x="295" y="932">1</text><text class="tk" x="295" y="947">0</text><text class="tk" x="295" y="961">-1</text>
<path class="xt" d="M305.5,963v3M314.5,963v3M323,963v3M332,963v3M340.5,963v3M349.5,963v3"/>
<path class="wk" d="M305.5,940V955M314.5,937V955M323,923V942M332,905V929M349.5,945V960"/>
<rect class="c1" x="302" y="948" width="7" height="5"/><rect class="c2" x="311" y="945" width="7" height="4"/><rect class="c3" x="319" y="926" width="8" height="15"/><rect class="c4" x="328" y="911" width="8" height="16"/><rect class="c5" x="337" y="958" width="7" height="2"/><rect class="c6" x="346" y="949" width="7" height="8"/>
<path class="md" d="M302,950h7M311,947h7M319,937h8M328,915h8M337,959h7M346,951h7"/>
<text class="lb" x="318" y="972">GABA</text></g>

<g id="citric-acid"><rect class="fr" x="413" y="622" width="60" height="60"/>
<text class="tk" x="410" y="629">1.5</text><text class="tk" x="410" y="640">1.0</text><text class="tk" x="410" y="650">0.5</text><text class="tk" x="410" y="661">0.0</text><text class="tk" x="410" y="672">-0.5</text><text class="tk" x="410" y="682">-1.0</text>
<path class="xt" d="M422,682v3M431.5,682v3M440.5,682v3M450,682v3M458,682v3M467.5,682v3"/>
<path class="wk" d="M422,627V636M440.5,625V634"/>
<rect class="c1" x="418" y="629" width="8" height="5"/><rect class="c2" x="427" y="676" width="9" height="2"/><rect class="c3" x="437" y="627" width="7" height="6"/><rect class="c4" x="446" y="678" width="8" height="2"/><rect class="c5" x="454" y="648" width="8" height="5"/><rect class="c6" x="464" y="678" width="7" height="2"/>
<path class="md" d="M418,631h8M427,677h9M437,629h7M446,679h8M454,650h8M464,679h7"/>
<text class="lb" x="444" y="693">Citric acid</text></g>

<g id="ketoglutaric-acid"><rect class="fr" x="406" y="777" width="64" height="67"/>
<text class="tk" x="403" y="784">2.0</text><text class="tk" x="403" y="794">1.5</text><text class="tk" x="403" y="804">1.0</text><text class="tk" x="403" y="813">0.5</text><text class="tk" x="403" y="822">0.0</text><text class="tk" x="403" y="832">-0.5</text><text class="tk" x="403" y="842">-1.0</text>
<path class="xt" d="M413,844v3M423,844v3M433,844v3M443,844v3M453,844v3M463,844v3"/>
<path class="wk" d="M413,805V819M433,795V812M453,792V800"/>
<rect class="c1" x="409" y="810" width="8" height="5"/><rect class="c2" x="419" y="837" width="8" height="2"/><rect class="c3" x="429" y="802" width="8" height="4"/><rect class="c4" x="439" y="841" width="8" height="2"/><rect class="c5" x="449" y="793" width="8" height="6"/><rect class="c6" x="459" y="838" width="8" height="2"/>
<path class="md" d="M409,812h8M419,838h8M429,804h8M439,842h8M449,796h8M459,839h8"/>
<circle class="dt" cx="453" cy="781" r="1.2"/>
<text class="lb" x="441" y="858">Ketoglutaric acid</text></g>

<g id="l-glutamic-acid"><rect class="fr" x="394" y="896" width="64" height="66"/>
<text class="tk" x="391" y="903">2.0</text><text class="tk" x="391" y="912">1.5</text><text class="tk" x="391" y="921">1.0</text><text class="tk" x="391" y="930">0.5</text><text class="tk" x="391" y="939">0.0</text><text class="tk" x="391" y="948">-0.5</text><text class="tk" x="391" y="957">-1.0</text>
<path class="xt" d="M403,962v3M413,962v3M422.5,962v3M432.5,962v3M442.5,962v3M452.5,962v3"/>
<path class="wk" d="M413,933V947"/>
<rect class="c1" x="399" y="902" width="8" height="2.5"/><rect class="c2" x="409" y="937" width="8" height="5"/><rect class="c3" x="418" y="918" width="9" height="3"/><rect class="c4" x="428" y="956" width="9" height="2"/><rect class="c5" x="438" y="937" width="9" height="5"/><rect class="c6" x="448" y="957" width="9" height="2"/>
<path class="md" d="M399,903h8M409,939h8M418,919h9M428,957h9M438,939h9M448,958h9"/>
<circle class="dt" cx="403" cy="920" r="1.2"/><circle class="dt" cx="422.5" cy="915" r="1.2"/>
<text class="lb" x="427" y="972">L-Glutamic acid</text></g>

<g id="glutamine"><rect class="fr" x="504" y="892" width="66" height="68"/>
<text class="tk" x="500" y="896">1.5</text><text class="tk" x="500" y="909">1.0</text><text class="tk" x="500" y="922">0.5</text><text class="tk" x="500" y="935">0.0</text><text class="tk" x="500" y="948">-0.5</text><text class="tk" x="500" y="960">-1.0</text>
<path class="xt" d="M512.5,960v3M523.5,960v3M534,960v3M544,960v3M554,960v3M565,960v3"/>
<path class="wk" d="M523.5,898V913M544,915V929"/>
<rect class="c1" x="508" y="951" width="9" height="2"/><rect class="c2" x="519" y="902" width="9" height="7"/><rect class="c3" x="530" y="956" width="8" height="2"/><rect class="c4" x="540" y="921" width="8" height="6"/><rect class="c5" x="550" y="957" width="8" height="2"/><rect class="c6" x="561" y="894" width="8" height="4"/>
<path class="md" d="M508,952h9M519,906h9M530,957h8M540,923h8M550,958h8M561,896h8"/>
<text class="lb" x="538" y="972">Glutamine</text></g>

<g id="l-proline"><rect class="fr" x="631" y="768" width="64" height="66"/>
<text class="tk" x="628" y="788">2</text><text class="tk" x="628" y="803">1</text><text class="tk" x="628" y="818">0</text><text class="tk" x="628" y="832">-1</text>
<path class="xt" d="M637.5,834v3M647.5,834v3M657.5,834v3M667.5,834v3M677.5,834v3M687.5,834v3"/>
<path class="wk" d="M637.5,797V815M647.5,770V801"/>
<rect class="c1" x="633" y="801" width="9" height="8"/><rect class="c2" x="643" y="775" width="9" height="23"/><rect class="c3" x="653" y="824" width="9" height="3"/><rect class="c4" x="663" y="817" width="9" height="3"/><rect class="c5" x="673" y="829" width="9" height="2"/><rect class="c6" x="683" y="822" width="9" height="2"/>
<path class="md" d="M633,803h9M643,785h9M653,825h9M663,818h9M673,830h9M683,823h9"/>
<text class="lb" x="659" y="847">L-Proline</text></g>

<g id="putrescine"><rect class="fr" x="635" y="862" width="58" height="62"/>
<text class="tk" x="632" y="877">1.0</text><text class="tk" x="632" y="889">0.5</text><text class="tk" x="632" y="900">0.0</text><text class="tk" x="632" y="913">-0.5</text><text class="tk" x="632" y="925">-1.0</text>
<path class="xt" d="M640.5,924v3M650,924v3M659,924v3M668.5,924v3M678,924v3M687,924v3"/>
<path class="wk" d="M650,881V888M668.5,864V878"/>
<rect class="c1" x="637" y="921" width="7" height="2"/><rect class="c2" x="646" y="882" width="8" height="5"/><rect class="c3" x="655" y="921" width="8" height="2"/><rect class="c4" x="664" y="865" width="9" height="12"/><rect class="c5" x="674" y="921" width="8" height="2"/><rect class="c6" x="683" y="864" width="8" height="10"/>
<path class="md" d="M637,922h7M646,884h8M655,922h8M664,869h9M674,922h8M683,865h8"/>
<text class="lb" x="660" y="938">Putrescine</text></g>

<g id="pyroglutamic-acid"><rect class="fr" x="630" y="652" width="62" height="63"/>
<text class="tk" x="626" y="659">2</text><text class="tk" x="626" y="674">1</text><text class="tk" x="626" y="689">0</text><text class="tk" x="626" y="704">-1</text>
<path class="xt" d="M637,715v3M647,715v3M656,715v3M665.5,715v3M675,715v3M685,715v3"/>
<path class="wk" d="M647,652V688M656,685V702M675,700V713M685,673V688"/>
<rect class="c1" x="633" y="669" width="8" height="2"/><rect class="c2" x="643" y="656" width="8" height="26"/><rect class="c3" x="652" y="689" width="8" height="8"/><rect class="c4" x="662" y="701" width="7" height="5"/><rect class="c5" x="671" y="702" width="8" height="6"/><rect class="c6" x="681" y="678" width="8" height="5"/>
<path class="md" d="M633,670h8M643,673h8M652,692h8M662,703h7M671,704h8M681,680h8"/>
<circle class="dt" cx="637" cy="667" r="1.2"/>
<text class="lb" x="655" y="728">Pyroglutamic acid</text></g>

<g id="valine"><rect class="fr" x="527" y="642" width="62" height="64"/>
<text class="tk" x="524" y="652">1.5</text><text class="tk" x="524" y="662">1.0</text><text class="tk" x="524" y="671">0.5</text><text class="tk" x="524" y="680">0.0</text><text class="tk" x="524" y="689">-0.5</text><text class="tk" x="524" y="698">-1.0</text>
<path class="xt" d="M535,706v3M544,706v3M554,706v3M564,706v3M573,706v3M583,706v3"/>
<path class="wk" d="M583,668V679"/>
<rect class="c1" x="531" y="685" width="8" height="5"/><rect class="c2" x="540" y="644" width="8" height="5"/><rect class="c3" x="550" y="695" width="8" height="2"/><rect class="c4" x="560" y="661" width="8" height="3"/><rect class="c5" x="569" y="696" width="8" height="2"/><rect class="c6" x="579" y="669" width="8" height="9"/>
<path class="md" d="M531,687h8M540,646h8M550,696h8M560,662h8M569,697h8M579,676h8"/>
<text class="lb" x="541" y="719">Valine</text></g>

<g id="l-alanine"><rect class="fr" x="494" y="548" width="60" height="63"/>
<text class="tk" x="491" y="553">2.0</text><text class="tk" x="491" y="562">1.5</text><text class="tk" x="491" y="570">1.0</text><text class="tk" x="491" y="579">0.5</text><text class="tk" x="491" y="587">0.0</text><text class="tk" x="491" y="596">-0.5</text><text class="tk" x="491" y="605">-1.0</text>
<path class="xt" d="M501,611v3M510.5,611v3M520,611v3M529,611v3M538,611v3M548,611v3"/>
<path class="wk" d="M501,560V573M538,588V603M548,587V599"/>
<rect class="c1" x="497" y="563" width="8" height="7"/><rect class="c2" x="507" y="552" width="7" height="4"/><rect class="c3" x="516" y="603" width="8" height="3"/><rect class="c4" x="525" y="588" width="8" height="4"/><rect class="c5" x="534" y="591" width="8" height="8"/><rect class="c6" x="544" y="593" width="8" height="4"/>
<path class="md" d="M497,566h8M507,554h7M516,604h8M525,590h8M534,594h8M544,594h8"/>
<circle class="dt" cx="510.5" cy="561" r="1.2"/>
<text class="lb" x="512" y="622">L-Alanine</text></g>

<g id="shikimic-acid"><rect class="fr" x="533" y="466" width="59" height="59"/>
<text class="tk" x="530" y="476">2</text><text class="tk" x="530" y="491">1</text><text class="tk" x="530" y="506">0</text><text class="tk" x="530" y="521">-1</text>
<path class="xt" d="M540.5,525v3M549.5,525v3M558.5,525v3M568,525v3M576,525v3M585.5,525v3"/>
<path class="wk" d="M540.5,503V513M549.5,468V482M568,505V523M576,497V506"/>
<rect class="c1" x="537" y="505" width="7" height="4"/><rect class="c2" x="546" y="472" width="7" height="8"/><rect class="c3" x="555" y="505" width="7" height="4"/><rect class="c4" x="564" y="509" width="8" height="10"/><rect class="c5" x="572" y="500" width="8" height="3"/><rect class="c6" x="582" y="514" width="7" height="2"/>
<path class="md" d="M537,507h7M546,475h7M555,507h7M564,512h8M572,501h8M582,515h7"/>
<text class="lb" x="563" y="539">Shikimic acid</text></g>

<g id="tyrosine"><rect class="fr" x="626" y="504" width="57" height="59"/>
<text class="tk" x="623" y="516">1.5</text><text class="tk" x="623" y="524">1.0</text><text class="tk" x="623" y="533">0.5</text><text class="tk" x="623" y="541">0.0</text><text class="tk" x="623" y="550">-0.5</text><text class="tk" x="623" y="558">-1.0</text>
<path class="xt" d="M634.5,563v3M643,563v3M651.5,563v3M660.5,563v3M668.5,563v3M677,563v3"/>
<path class="wk" d="M643,505V525M660.5,512V527M677,528V539"/>
<rect class="c1" x="631" y="553" width="7" height="3"/><rect class="c2" x="639" y="507" width="8" height="11"/><rect class="c3" x="648" y="553" width="7" height="3"/><rect class="c4" x="657" y="518" width="7" height="6"/><rect class="c5" x="665" y="559" width="7" height="2"/><rect class="c6" x="673" y="530" width="8" height="6"/>
<path class="md" d="M631,554h7M639,509h8M648,554h7M657,520h7M665,560h7M673,533h8"/>
<circle class="dt" cx="651.5" cy="550" r="1.2"/><circle class="dt" cx="660.5" cy="541" r="1.2"/>
<text class="lb" x="647" y="576">Tyrosine</text></g>

<g id="quinic-acid"><rect class="fr" x="437" y="460" width="60" height="62"/>
<text class="tk" x="434" y="471">2</text><text class="tk" x="434" y="486">1</text><text class="tk" x="434" y="501">0</text><text class="tk" x="434" y="516">-1</text>
<path class="xt" d="M443.5,522v3M452.5,522v3M461.5,522v3M470.5,522v3M479.5,522v3M489.5,522v3"/>
<path class="wk" d="M443.5,510V518M452.5,493V508M461.5,493V500M470.5,501V514M479.5,461V480"/>
<rect class="c1" x="440" y="513" width="7" height="3"/><rect class="c2" x="449" y="496" width="7" height="9"/><rect class="c3" x="458" y="494" width="7" height="5"/><rect class="c4" x="467" y="503" width="7" height="10"/><rect class="c5" x="476" y="463" width="7" height="15"/><rect class="c6" x="486" y="483" width="7" height="3"/>
<path class="md" d="M440,514h7M449,501h7M458,495h7M467,510h7M476,475h7M486,484h7"/>
<text class="lb" x="465" y="536">Quinic acid</text></g>
</svg>
